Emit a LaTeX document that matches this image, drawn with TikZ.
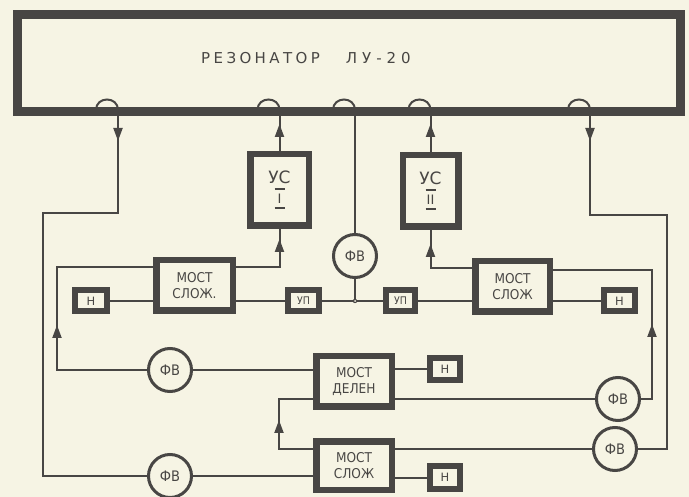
\documentclass[tikz,border=0pt]{standalone}
\usepackage{fontspec}
\setmainfont{DejaVu Sans}
\newfontfamily\cond{DejaVu Sans Condensed}
\usetikzlibrary{arrows.meta,calc}
\definecolor{bg}{RGB}{246,244,228}
\definecolor{ink}{RGB}{72,70,68}
\newcommand\romnum[1]{\shortstack{\rule{10pt}{1.6pt}\\[1pt]#1\\[1pt]\rule{10pt}{1.6pt}}}
\begin{document}
\begin{tikzpicture}[x=1pt,y=-1pt,
  wire/.style={draw=ink,line width=2pt},
  arr/.style={draw=ink,line width=2pt,-{Stealth[length=13pt,width=9pt,inset=0pt]}},
  bigbox/.style={draw=ink,line width=6.5pt,fill=bg,inner sep=0pt,outer sep=0pt,text=ink,align=center,
     font=\cond\fontsize{13.5}{15.5}\selectfont},
  smallbox/.style={draw=ink,line width=6pt,fill=bg,inner sep=0pt,outer sep=0pt,text=ink,
     minimum width=31pt,minimum height=21pt},
  usbox/.style={draw=ink,line width=6.5pt,fill=bg,inner sep=0pt,outer sep=0pt,text=ink,align=center,
     minimum height=71.5pt,font=\fontsize{17}{19}\selectfont},
  fvcirc/.style={circle,draw=ink,line width=3pt,fill=bg,inner sep=0pt,outer sep=0pt,minimum size=43pt,
     text=ink,font=\cond\fontsize{14.5}{14.5}\selectfont}
]
\fill[bg] (0,0) rectangle (689,497);
\useasboundingbox (0,0) rectangle (689,497);

% resonator
\node[text=ink,font=\fontsize{15}{15}\selectfont] (T) at (306,58)
  {Р\kern3.4ptЕ\kern3.4ptЗ\kern3.4ptО\kern3.4ptН\kern3.4ptА\kern3.4ptТ\kern3.4ptО\kern3.4ptР\hspace{26pt}Л\kern5ptУ\kern5pt-\kern5pt2\kern5pt0};

% coupling points
\coordinate (p1) at (118,110);
\coordinate (p2) at (279.5,110);
\coordinate (p3) at (355,110);
\coordinate (p4) at (430.5,110);
\coordinate (p5) at (590,110);
\foreach \p in {p1,p2,p3,p4,p5}{
  \draw[wire] ($(\p)+(-22,0)$) .. controls ($(\p)+(-22,-14)$) and ($(\p)+(0,-14)$) .. (\p);
}

% blocks
\node[usbox,minimum width=58.5pt] (US1) at (279.5,190) {УС\\[3pt]{\fontsize{13}{13}\selectfont\romnum{I}}};
\node[usbox,minimum width=55.5pt] (US2) at (430.5,191) {УС\\[3pt]{\fontsize{13}{13}\selectfont\romnum{II}}};
\node[bigbox,minimum width=76.5pt,minimum height=50.5pt] (ML) at (194.5,285.5) {МОСТ\\СЛОЖ.};
\node[bigbox,minimum width=74.5pt,minimum height=50.5pt] (MR) at (512.5,286.5) {МОСТ\\СЛОЖ};
\node[bigbox,minimum width=75.5pt,minimum height=50.5pt] (MD) at (354,381.5) {МОСТ\\ДЕЛЕН};
\node[bigbox,minimum width=75.5pt,minimum height=48.5pt] (MB) at (354,465.5) {МОСТ\\СЛОЖ};
\node[smallbox,minimum width=32pt,font=\fontsize{11.5}{11.5}\selectfont] (HL) at (91,301) {Н};
\node[smallbox,font=\cond\fontsize{10.5}{10.5}\selectfont] (UL) at (303.5,301) {УП};
\node[smallbox,minimum width=29pt,font=\cond\fontsize{10.5}{10.5}\selectfont] (UR) at (400.5,301) {УП};
\node[smallbox,minimum width=31pt,font=\fontsize{11.5}{11.5}\selectfont] (HR) at (619.5,301) {Н};
\node[smallbox,minimum width=30pt,minimum height=22pt,font=\fontsize{11.5}{11.5}\selectfont] (HM) at (445,369) {Н};
\node[smallbox,minimum width=30pt,minimum height=23pt,font=\fontsize{11.5}{11.5}\selectfont] (HB) at (445,477.5) {Н};
\node[fvcirc] (FC) at (355,256) {ФВ};
\node[fvcirc] (FL1) at (170,370) {ФВ};
\node[fvcirc] (FL2) at (170,476) {ФВ};
\node[fvcirc] (FR1) at (618,399) {ФВ};
\node[fvcirc] (FR2) at (615,449) {ФВ};

% corner coordinates
\coordinate (a1) at (118,213);
\coordinate (a2) at (43,213);
\coordinate (a3) at (43,476);
\coordinate (b1) at (57,267);
\coordinate (b2) at (57,370);
\coordinate (c1) at (279.5,267);
\coordinate (d1) at (430.5,268);
\coordinate (e1) at (652,270);
\coordinate (e2) at (652,399);
\coordinate (f1) at (590,215);
\coordinate (f2) at (667,215);
\coordinate (f3) at (667,449);
\coordinate (g1) at (279,399);
\coordinate (g2) at (279,449);
\coordinate (j) at (355,301);

% connectors
\draw[wire] (p1) -- (a1) -- (a2) -- (a3) -- (FL2);
\draw[wire] (FL2) -- (MB.west |- FL2);
\draw[arr] (p1) -- (118,141);

\draw[wire] (MD.west |- FL1) -- (FL1);
\draw[wire] (FL1) -- (b2) -- (b1) -- (ML.west |- b1);
\draw[arr] (57,350) -- (57,325);

\draw[wire] (HL) -- (ML.west |- HL);
\draw[wire] (ML.east |- c1) -- (c1) -- (US1.south);
\draw[arr] (c1) -- (279.5,239);
\draw[wire] (US1.north) -- (p2);
\draw[arr] (US1.north) -- (279.5,124);

\draw[wire] (p3) -- (FC);
\draw[wire] (FC) -- (j);
\draw[wire] (ML.east |- j) -- (UL);
\draw[wire] (UL) -- (j) -- (UR);
\draw[wire] (UR) -- (MR.west |- j);
\fill[ink] (j) circle (2.2pt);
\fill[bg] (j) circle (1pt);

\draw[wire] (MR.west |- d1) -- (d1) -- (US2.south);
\draw[arr] (d1) -- (430.5,244);
\draw[wire] (US2.north) -- (p4);
\draw[arr] (US2.north) -- (430.5,124);

\draw[wire] (MR.east |- HR) -- (HR);
\draw[wire] (MD.east |- FR1) -- (FR1);
\draw[wire] (FR1) -- (e2) -- (e1) -- (MR.east |- e1);
\draw[arr] (652,350) -- (652,324);

\draw[wire] (p5) -- (f1) -- (f2) -- (f3) -- (FR2);
\draw[wire] (FR2) -- (MB.east |- FR2);
\draw[arr] (p5) -- (590,141);

\draw[wire] (MB.west |- g2) -- (g2) -- (g1) -- (MD.west |- g1);
\draw[arr] (279,442) -- (279,420);
\draw[wire] (MD.east |- HM) -- (HM);
\draw[wire] (MB.east |- HB) -- (HB);

% resonator frame on top
\node[draw=ink,line width=9pt,minimum width=663pt,minimum height=97.5pt,inner sep=0pt,outer sep=0pt] (R) at (348.5,63.25) {};
\end{tikzpicture}
\end{document}
